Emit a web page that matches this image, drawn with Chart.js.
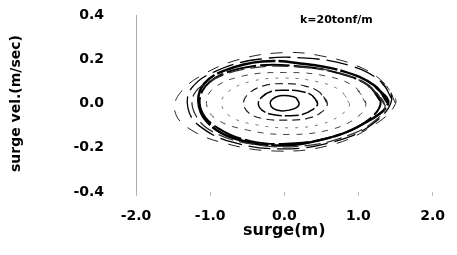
<!DOCTYPE html>
<html>
<head>
<meta charset="utf-8">
<script src="https://cdn.jsdelivr.net/npm/chart.js@4.4.0/dist/chart.umd.min.js"></script>
<style>
  html, body { margin: 0; padding: 0; background: #fff; }
  #wrap { width: 457px; height: 255px; }
</style>
</head>
<body>
<div id="wrap"><canvas id="c" width="457" height="255"></canvas></div>
<script>
// surge (m) vs surge velocity (m/sec)
var xTicks = [-2, -1, 0, 1, 2];
var yTicks = [-0.4, -0.2, 0, 0.2, 0.4];
var note = 'k=20tonf/m';

// each loop is a list of [surge, velocity] pairs, going round once
// (the second point is repeated at the end so the join stays smooth)
var loopMain = [[1.40, 0.00], [1.22, 0.08], [0.80, 0.145], [0.25, 0.18], [-0.30, 0.19], [-0.80, 0.15], [-1.08, 0.09], [-1.16, 0.01],
  [-1.05, -0.08], [-0.70, -0.155], [-0.10, -0.19], [0.55, -0.16], [1.05, -0.095], [1.40, 0.00], [1.22, 0.08]];
var loopSecond = [[1.30, 0.01], [1.12, 0.085], [0.70, 0.14], [0.15, 0.17], [-0.40, 0.17], [-0.85, 0.13], [-1.10, 0.06], [-1.12, -0.03],
  [-0.90, -0.11], [-0.45, -0.17], [0.15, -0.18], [0.75, -0.14], [1.15, -0.07], [1.30, 0.01], [1.12, 0.085]];
var loopThird = [[1.45, 0.02], [1.30, 0.10], [0.90, 0.17], [0.30, 0.205], [-0.35, 0.20], [-0.90, 0.15], [-1.25, 0.07], [-1.30, -0.02],
  [-1.15, -0.10], [-0.70, -0.175], [0.00, -0.205], [0.70, -0.17], [1.20, -0.09], [1.45, 0.02], [1.30, 0.10]];
var loopFourth = [[1.36, -0.01], [1.18, 0.07], [0.78, 0.135], [0.20, 0.165], [-0.45, 0.16], [-0.95, 0.11], [-1.22, 0.04], [-1.20, -0.05],
  [-0.95, -0.13], [-0.40, -0.185], [0.30, -0.19], [0.90, -0.14], [1.25, -0.07], [1.36, -0.01], [1.18, 0.07]];
var loopOuter = [[1.50, 0.00], [1.38, 0.08], [1.05, 0.16], [0.50, 0.215], [0.00, 0.23], [-0.60, 0.20], [-1.10, 0.13], [-1.40, 0.05],
  [-1.48, -0.03], [-1.30, -0.11], [-0.80, -0.18], [-0.10, -0.215], [0.60, -0.19], [1.15, -0.11], [1.50, 0.00], [1.38, 0.08]];
var loopMid = [[1.10, 0.00], [0.95, 0.075], [0.55, 0.125], [0.00, 0.14], [-0.55, 0.125], [-0.95, 0.07], [-1.05, 0.00],
  [-0.92, -0.07], [-0.50, -0.12], [0.05, -0.14], [0.60, -0.12], [0.97, -0.065], [1.10, 0.00], [0.95, 0.075]];
var loopMidInner = [[0.88, 0.00], [0.75, 0.06], [0.42, 0.10], [0.00, 0.115], [-0.45, 0.10], [-0.75, 0.055], [-0.85, 0.00],
  [-0.72, -0.06], [-0.40, -0.095], [0.05, -0.11], [0.48, -0.095], [0.77, -0.05], [0.88, 0.00], [0.75, 0.06]];
var loopSmall = [[0.58, 0.00], [0.48, 0.05], [0.27, 0.08], [0.00, 0.09], [-0.28, 0.08], [-0.48, 0.045], [-0.55, 0.00],
  [-0.47, -0.045], [-0.26, -0.07], [0.02, -0.075], [0.30, -0.068], [0.50, -0.04], [0.58, 0.00], [0.48, 0.05]];
var loopSmaller = [[0.45, 0.00], [0.38, 0.035], [0.22, 0.055], [0.03, 0.06], [-0.17, 0.055], [-0.30, 0.03], [-0.35, 0.00],
  [-0.30, -0.03], [-0.16, -0.05], [0.04, -0.055], [0.24, -0.05], [0.38, -0.028], [0.45, 0.00], [0.38, 0.035]];
var loopCore = [[0.20, 0.00], [0.16, 0.025], [0.06, 0.035], [-0.06, 0.035], [-0.16, 0.02], [-0.19, 0.00],
  [-0.15, -0.022], [-0.05, -0.033], [0.07, -0.03], [0.17, -0.018], [0.20, 0.00], [0.16, 0.025]];

var fontFamily = '"DejaVu Sans", Verdana, sans-serif';

function toPoints(loop) {
  return loop.map(function (p) { return { x: p[0], y: p[1] }; });
}

function orbit(loop, width, dash, color) {
  return {
    data: toPoints(loop),
    showLine: true,
    borderColor: color || '#000',
    borderWidth: width,
    borderDash: dash || [],
    pointRadius: 0,
    tension: 0.4,
    fill: false
  };
}

var noteLabel = {
  id: 'noteLabel',
  afterDraw: function (chart) {
    var ctx = chart.ctx;
    ctx.save();
    ctx.font = 'bold 11px ' + fontFamily;
    ctx.fillStyle = '#000';
    ctx.textBaseline = 'middle';
    ctx.fillText(note, 300, 20);
    ctx.restore();
  }
};

new Chart(document.getElementById('c'), {
  type: 'scatter',
  data: {
    datasets: [
      orbit(loopOuter, 1, [12, 10], '#222'),
      orbit(loopThird, 1.3, [22, 7]),
      orbit(loopFourth, 1.3, [16, 6], '#333'),
      orbit(loopSecond, 2, [30, 4]),
      orbit(loopMain, 2.5, [60, 3]),
      orbit(loopMid, 1, [6, 7], '#444'),
      orbit(loopMidInner, 1, [3, 7], '#777'),
      orbit(loopSmall, 1.2, [8, 5], '#222'),
      orbit(loopSmaller, 1.5, [14, 3]),
      orbit(loopCore, 1.5)
    ]
  },
  options: {
    responsive: false,
    animation: false,
    layout: { padding: { left: 0, right: 23, top: 15, bottom: 0 } },
    plugins: { legend: { display: false }, tooltip: { enabled: false } },
    scales: {
      x: {
        type: 'linear',
        min: -2, max: 2,
        afterBuildTicks: function (axis) { axis.ticks = xTicks.map(function (v) { return { value: v }; }); },
        afterFit: function (axis) { axis.height = 63; },
        border: { display: false },
        grid: { display: true, drawOnChartArea: false, drawTicks: true, tickLength: 4, color: '#bbb' },
        ticks: {
          padding: 12,
          color: '#000',
          font: { family: fontFamily, size: 14, weight: 'bold' },
          callback: function (v) { return v.toFixed(1); }
        },
        title: {
          display: true,
          text: 'surge(m)',
          color: '#000',
          font: { family: fontFamily, size: 16, weight: 'bold' },
          padding: { top: 0, bottom: 15 }
        }
      },
      y: {
        type: 'linear',
        min: -0.4, max: 0.4,
        afterBuildTicks: function (axis) { axis.ticks = yTicks.map(function (v) { return { value: v }; }); },
        afterFit: function (axis) { axis.width = 136; },
        border: { display: true, color: '#aaa', width: 1, dash: [3, 7] },
        grid: { display: false, drawTicks: true, tickLength: 28 },
        ticks: {
          padding: 4,
          color: '#000',
          font: { family: fontFamily, size: 14, weight: 'bold' },
          callback: function (v) { return v.toFixed(1); }
        },
        title: {
          display: true,
          text: 'surge vel.(m/sec)',
          color: '#000',
          font: { family: fontFamily, size: 14, weight: 'bold' },
          padding: { top: 8, bottom: 0 }
        }
      }
    }
  },
  plugins: [noteLabel]
});
</script>
</body>
</html>
